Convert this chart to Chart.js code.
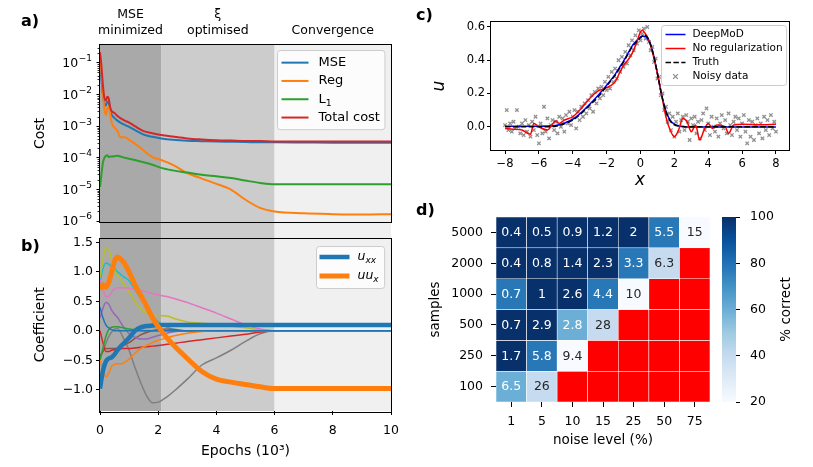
<!DOCTYPE html>
<html lang="en">
<head>
<meta charset="UTF-8">
<title>DeepMoD training, fit and noise robustness</title>
<script src="https://cdn.jsdelivr.net/npm/chart.js"></script>
<style>
  body { margin: 0; background: #fff; font-family: "DejaVu Sans", sans-serif; }
  #fig { position: relative; width: 813px; height: 467px; overflow: hidden; }
  #fig canvas { position: absolute; }
  .plabel { position: absolute; font-weight: bold; font-size: 16px; line-height: 16px; color: #000; }
</style>
</head>
<body>
<div id="fig">
  <canvas id="costChart" width="410" height="228" style="left:0;top:0"></canvas>
  <canvas id="coefChart" width="410" height="239" style="left:0;top:228px"></canvas>
  <canvas id="fitChart" width="403" height="195" style="left:410px;top:0"></canvas>
  <canvas id="heatChart" width="302" height="272" style="left:410px;top:195px"></canvas>
  <canvas id="cbarChart" width="101" height="272" style="left:712px;top:195px"></canvas>
  <div class="plabel" style="left:21px;top:13px">a)</div>
  <div class="plabel" style="left:21px;top:238px">b)</div>
  <div class="plabel" style="left:416px;top:7px">c)</div>
  <div class="plabel" style="left:416px;top:202px">d)</div>
</div>

<script>
// ---- panel a: cost terms (epochs in thousands) ----
const costEpochs = [0, 0.05, 0.1, 0.15, 0.2, 0.25, 0.3, 0.35, 0.4, 0.5, 0.6, 0.7, 0.85, 1.0, 1.2, 1.5, 1.8, 2.1, 2.5, 3.0, 3.5, 4.0, 4.5, 5.0, 5.5, 6.0, 7.0, 8.0, 9.0, 10.0];
const mseCost = [8e-2, 3e-2, 1e-2, 5e-3, 4.5e-3, 6e-3, 5.5e-3, 3e-3, 2.3e-3, 1.8e-3, 1.5e-3, 1.3e-3, 1.1e-3, 9.5e-4, 7.5e-4, 5.4e-4, 4.6e-4, 4.1e-4, 3.7e-4, 3.45e-4, 3.35e-4, 3.25e-4, 3.2e-4, 3.15e-4, 3.1e-4, 3.1e-4, 3.05e-4, 3e-4, 3e-4, 3e-4];
const regCost = [1.5e-1, 5e-2, 1.2e-2, 3.5e-3, 2.3e-3, 3.5e-3, 4.2e-3, 2.5e-3, 1.3e-3, 9e-4, 7e-4, 4.5e-4, 4.5e-4, 3.7e-4, 2.8e-4, 1.7e-4, 1.05e-4, 8.5e-5, 6e-5, 3.3e-5, 2.2e-5, 1.5e-5, 9.8e-6, 4.7e-6, 2.6e-6, 2.0e-6, 1.75e-6, 1.65e-6, 1.6e-6, 1.65e-6];
const l1Cost = [1.2e-5, 3e-5, 7e-5, 1e-4, 1.15e-4, 1.2e-4, 1.05e-4, 1.1e-4, 1.1e-4, 1.12e-4, 1.15e-4, 1.1e-4, 1e-4, 9.3e-5, 8.5e-5, 7.2e-5, 6e-5, 4.8e-5, 4e-5, 3.4e-5, 2.9e-5, 2.6e-5, 2.3e-5, 1.9e-5, 1.6e-5, 1.45e-5, 1.45e-5, 1.45e-5, 1.45e-5, 1.45e-5];
const totalCost = [2.2e-1, 8e-2, 2e-2, 8e-3, 6.5e-3, 8.5e-3, 7.5e-3, 4e-3, 3e-3, 2.6e-3, 2.1e-3, 1.8e-3, 1.5e-3, 1.3e-3, 1e-3, 7e-4, 6e-4, 5.3e-4, 4.7e-4, 4.1e-4, 3.8e-4, 3.6e-4, 3.5e-4, 3.4e-4, 3.4e-4, 3.3e-4, 3.3e-4, 3.3e-4, 3.3e-4, 3.3e-4];
const costTicks = [1e-6, 1e-5, 1e-4, 1e-3, 1e-2, 1e-1];

// training phases shared by a and b
const phaseEdges = [0, 2.1, 6, 10];
const phaseNames = [['MSE', 'minimized'], ['\u03BE', 'optimised'], ['', 'Convergence']];

// ---- panel b: coefficients ----
const coefEpochs = [0, 0.1, 0.2, 0.3, 0.4, 0.5, 0.6, 0.7, 0.8, 1.0, 1.2, 1.4, 1.6, 1.8, 2.0, 2.3, 2.6, 3.0, 3.5, 4.0, 4.5, 5.0, 5.5, 6.0, 7.0, 8.0, 9.0, 10.0];
const coefThin = [
  [0.40, 0.22, 0.10, 0.05, 0.02, 0, 0, 0, 0, 0, 0, 0, 0, 0, 0, 0, 0, 0, 0, 0, 0, 0, 0, 0, 0, 0, 0, 0],
  [-0.50, -0.65, -0.78, -0.72, -0.60, -0.57, -0.56, -0.56, -0.55, -0.48, -0.38, -0.30, -0.25, -0.20, -0.16, -0.12, -0.08, -0.04, -0.01, 0, 0, 0, 0, 0, 0, 0, 0, 0],
  [-0.50, -0.30, -0.10, 0.02, 0.06, 0.07, 0.07, 0.06, 0.05, 0.03, 0.02, 0.01, 0, 0, 0, 0, 0, 0, 0, 0, 0, 0, 0, 0, 0, 0, 0, 0],
  [0, -0.20, -0.35, -0.35, -0.33, -0.32, -0.31, -0.30, -0.30, -0.30, -0.29, -0.28, -0.27, -0.26, -0.25, -0.23, -0.21, -0.18, -0.15, -0.12, -0.09, -0.06, -0.02, 0, 0, 0, 0, 0],
  [0.22, 0.38, 0.48, 0.45, 0.35, 0.28, 0.23, 0.15, 0.07, -0.05, -0.11, -0.14, -0.14, -0.11, -0.08, -0.04, -0.01, 0, 0, 0, 0, 0, 0, 0, 0, 0, 0, 0],
  [-0.42, -0.35, -0.30, -0.30, -0.30, -0.30, -0.29, -0.27, -0.25, -0.20, -0.13, -0.07, -0.03, 0, 0.02, 0.03, 0.02, 0, 0, 0, 0, 0, 0, 0, 0, 0, 0, 0],
  [0.88, 0.72, 0.58, 0.58, 0.66, 0.71, 0.73, 0.73, 0.73, 0.72, 0.70, 0.68, 0.66, 0.63, 0.61, 0.58, 0.54, 0.48, 0.39, 0.30, 0.20, 0.10, 0.03, 0, 0, 0, 0, 0],
  [-0.45, -0.35, -0.22, -0.10, -0.02, 0.03, 0.04, -0.02, -0.12, -0.33, -0.62, -0.88, -1.10, -1.22, -1.21, -1.12, -1.00, -0.82, -0.58, -0.46, -0.33, -0.18, -0.05, 0, 0, 0, 0, 0],
  [0.90, 1.20, 1.40, 1.38, 1.20, 1.02, 0.95, 0.88, 0.80, 0.66, 0.50, 0.38, 0.30, 0.26, 0.26, 0.25, 0.20, 0.15, 0.13, 0.11, 0.08, 0.05, 0.02, 0, 0, 0, 0, 0],
  [0.82, 1.05, 1.15, 1.13, 1.08, 1.05, 1.00, 0.96, 0.92, 0.85, 0.70, 0.55, 0.40, 0.25, 0.15, 0.06, 0.02, 0, 0, 0, 0, 0, 0, 0, 0, 0, 0, 0]
];
const coefUxx = [-0.98, -0.68, -0.52, -0.47, -0.45, -0.40, -0.33, -0.27, -0.22, -0.12, 0, 0.06, 0.08, 0.09, 0.10, 0.10, 0.10, 0.10, 0.10, 0.10, 0.10, 0.10, 0.10, 0.10, 0.10, 0.10, 0.10, 0.10];
const coefUux = [0.70, 0.78, 0.74, 0.82, 1.00, 1.18, 1.25, 1.22, 1.17, 1.00, 0.78, 0.60, 0.42, 0.22, 0.07, -0.12, -0.28, -0.47, -0.69, -0.82, -0.87, -0.91, -0.95, -0.98, -0.98, -0.98, -0.98, -0.98];
const epochTicks = [0, 2, 4, 6, 8, 10];
const coefTicks = [-1.0, -0.5, 0, 0.5, 1.0, 1.5];

// ---- panel c: solution u(x) ----
const fitX = [-8, -7.5, -7, -6.5, -6.3, -6, -5.5, -5, -4.8, -4.5, -4, -3.5, -3, -2.5, -2, -1.5, -1.25, -1, -0.75, -0.5, -0.25, 0, 0.1, 0.25, 0.5, 0.75, 1, 1.25, 1.5, 1.75, 2, 2.25, 2.5, 2.75, 3, 3.25, 3.5, 3.75, 4, 4.25, 4.5, 5, 5.2, 5.5, 6, 7, 8];
const truthU = [0, 0, 0, 0, 0, 0, 0, 0.003, 0.008, 0.018, 0.04, 0.08, 0.13, 0.18, 0.245, 0.31, 0.35, 0.39, 0.435, 0.48, 0.51, 0.535, 0.545, 0.55, 0.52, 0.44, 0.32, 0.19, 0.09, 0.035, 0.012, 0.005, 0.002, 0, 0, 0, 0, 0, 0, 0, 0, 0, 0, 0, 0, 0, 0];
const deepmodU = [0.003, 0.003, 0.003, 0.003, 0.003, 0.003, 0.004, 0.008, 0.012, 0.022, 0.045, 0.085, 0.135, 0.19, 0.25, 0.315, 0.355, 0.395, 0.44, 0.485, 0.515, 0.54, 0.545, 0.545, 0.515, 0.44, 0.32, 0.19, 0.095, 0.04, 0.015, 0.005, 0, -0.002, -0.002, -0.002, -0.002, -0.002, -0.002, -0.002, -0.002, -0.002, -0.002, -0.002, -0.002, -0.002, -0.002];
const noRegU = [-0.01, -0.015, -0.02, -0.045, 0.02, 0, -0.02, 0.035, 0.02, 0.04, 0.06, 0.11, 0.17, 0.215, 0.235, 0.27, 0.32, 0.37, 0.40, 0.44, 0.50, 0.57, 0.58, 0.565, 0.52, 0.43, 0.32, 0.19, 0.06, -0.02, -0.06, -0.02, 0.05, 0.03, -0.03, 0.01, -0.08, -0.02, 0.02, -0.01, 0.01, 0, -0.04, 0.01, 0.015, 0.012, 0.015];
const noisyData = [
  [-8.0, 0.01], [-7.9, 0.10], [-7.8, -0.02], [-7.7, 0.02], [-7.6, -0.03], [-7.5, 0.03], [-7.4, -0.01], [-7.3, 0.10], [-7.2, 0.00], [-7.1, -0.04],
  [-7.0, 0.02], [-6.9, -0.05], [-6.8, 0.04], [-6.7, -0.03], [-6.6, 0.01], [-6.5, -0.06], [-6.4, 0.03], [-6.3, -0.02], [-6.2, 0.06], [-6.1, -0.05],
  [-6.0, -0.10], [-5.9, 0.02], [-5.8, -0.04], [-5.7, 0.12], [-5.6, -0.03], [-5.5, 0.05], [-5.4, -0.07], [-5.3, 0.01], [-5.2, 0.04], [-5.1, -0.02],
  [-5.0, 0.03], [-4.9, -0.04], [-4.8, 0.06], [-4.7, 0.00], [-4.6, 0.05], [-4.5, -0.03], [-4.4, 0.07], [-4.3, 0.02], [-4.2, 0.09], [-4.1, 0.01],
  [-4.0, 0.06], [-3.9, 0.10], [-3.8, -0.01], [-3.7, 0.09], [-3.6, 0.04], [-3.5, 0.12], [-3.4, 0.06], [-3.3, 0.14], [-3.2, 0.08], [-3.1, 0.16],
  [-3.0, 0.11], [-2.9, 0.19], [-2.8, 0.09], [-2.7, 0.21], [-2.6, 0.14], [-2.5, 0.23], [-2.4, 0.17], [-2.3, 0.24], [-2.2, 0.19], [-2.1, 0.27],
  [-2.0, 0.22], [-1.9, 0.30], [-1.8, 0.23], [-1.7, 0.33], [-1.6, 0.27], [-1.5, 0.35], [-1.4, 0.29], [-1.3, 0.40], [-1.2, 0.33], [-1.1, 0.42],
  [-1.0, 0.36], [-0.9, 0.45], [-0.8, 0.38], [-0.7, 0.49], [-0.6, 0.43], [-0.5, 0.52], [-0.4, 0.46], [-0.3, 0.55], [-0.2, 0.50], [-0.1, 0.58],
  [0.0, 0.52], [0.1, 0.56], [0.2, 0.59], [0.3, 0.53], [0.4, 0.60], [0.5, 0.51], [0.6, 0.46], [0.7, 0.48], [0.8, 0.39], [0.9, 0.41],
  [1.0, 0.29], [1.1, 0.30], [1.2, 0.19], [1.3, 0.20], [1.4, 0.10], [1.5, 0.12], [1.6, 0.03], [1.7, 0.08], [1.8, -0.02], [1.9, 0.06],
  [2.0, -0.06], [2.1, 0.03], [2.2, 0.08], [2.3, -0.03], [2.4, 0.04], [2.5, 0.06], [2.6, -0.02], [2.7, 0.07], [2.8, 0.03], [2.9, -0.08],
  [3.0, 0.05], [3.1, 0.01], [3.2, 0.06], [3.3, -0.04], [3.4, 0.03], [3.5, -0.07], [3.6, 0.04], [3.7, 0.08], [3.8, -0.02], [3.9, 0.11],
  [4.0, 0.02], [4.1, -0.05], [4.2, 0.06], [4.3, 0.00], [4.4, -0.03], [4.5, 0.05], [4.6, -0.06], [4.7, 0.02], [4.8, 0.07], [4.9, -0.01],
  [5.0, 0.04], [5.1, -0.04], [5.2, 0.08], [5.3, 0.01], [5.4, -0.05], [5.5, 0.03], [5.6, 0.06], [5.7, -0.02], [5.8, 0.05], [5.9, -0.06],
  [6.0, 0.02], [6.1, 0.07], [6.2, -0.03], [6.3, -0.10], [6.4, 0.04], [6.5, -0.06], [6.6, 0.03], [6.7, -0.08], [6.8, 0.01], [6.9, 0.05],
  [7.0, -0.04], [7.1, 0.02], [7.2, -0.07], [7.3, 0.06], [7.4, -0.02], [7.5, 0.04], [7.6, -0.05], [7.7, 0.07], [7.8, -0.01], [7.9, 0.03],
  [8.0, -0.03]
];
const fitXTicks = [-8, -6, -4, -2, 0, 2, 4, 6, 8];
const fitUTicks = [0, 0.2, 0.4, 0.6];

// ---- panel d: noise vs samples ----
const noiseLevels = ['1', '5', '10', '15', '25', '50', '75'];
const sampleSizes = ['5000', '2000', '1000', '500', '250', '100'];   // top row first
const pctCorrect = [
  [100, 100, 100, 100, 100, 78, 20],
  [100, 100, 100, 100, 78, 40, null],
  [78, 100, 100, 78, 20, null, null],
  [100, 100, 60, 40, null, null, null],
  [100, 78, 20, null, null, null, null],
  [60, 40, null, null, null, null, null]
];
const errorPct = [
  ['0.4', '0.5', '0.9', '1.2', '2', '5.5', '15'],
  ['0.4', '0.8', '1.4', '2.3', '3.3', '6.3', null],
  ['0.7', '1', '2.6', '4.4', '10', null, null],
  ['0.7', '2.9', '2.8', '28', null, null, null],
  ['1.7', '5.8', '9.4', null, null, null, null],
  ['6.5', '26', null, null, null, null, null]
];
const cbarTicks = [20, 40, 60, 80, 100];

// ---- styling ----
const FONT = '"DejaVu Sans", sans-serif';
const tab10 = ['#1f77b4', '#ff7f0e', '#2ca02c', '#d62728', '#9467bd', '#8c564b', '#e377c2', '#7f7f7f', '#bcbd22', '#17becf'];
const phaseColors = ['#a9a9a9', '#cccccc', '#f0f0f0'];
const bluesStops = ['#f7fbff', '#deebf7', '#c6dbef', '#9ecae1', '#6baed6', '#4292c6', '#2171b5', '#08519c', '#08306b'];

Chart.defaults.font.family = FONT;
Chart.defaults.color = '#000';
Chart.defaults.animation = false;
Chart.defaults.plugins.legend.display = false;
Chart.defaults.plugins.tooltip.enabled = false;

const fmt = (v, d) => v.toFixed(d).replace('-', '\u2212');
const pts = (xs, ys) => xs.map((x, i) => ({ x, y: ys[i] }));
const setTicks = list => s => { s.ticks = list.map(v => ({ value: v })); };

function hexRgb(h) { return [1, 3, 5].map(i => parseInt(h.slice(i, i + 2), 16)); }
function blues(pct) {
  const t = Math.min(1, Math.max(0, (pct - 20) / 80)) * (bluesStops.length - 1);
  const i = Math.min(Math.floor(t), bluesStops.length - 2), f = t - i;
  const a = hexRgb(bluesStops[i]), b = hexRgb(bluesStops[i + 1]);
  return 'rgb(' + a.map((c, k) => Math.round(c + (b[k] - c) * f)).join(',') + ')';
}
function lum(rgbStr) {
  const c = rgbStr.match(/\d+/g).map(Number).map(v => { v /= 255; return v <= 0.03928 ? v / 12.92 : Math.pow((v + 0.055) / 1.055, 2.4); });
  return 0.2126 * c[0] + 0.7152 * c[1] + 0.0722 * c[2];
}

const tickGrid = len => ({ drawOnChartArea: false, drawTicks: true, tickLength: len, color: '#000', lineWidth: 1 });

// ---- plugins ----
const framePlugin = {
  id: 'frame',
  afterDatasetsDraw(chart) {
    const { ctx, chartArea: a } = chart;
    ctx.save();
    ctx.strokeStyle = '#000';
    ctx.lineWidth = 1;
    ctx.strokeRect(Math.round(a.left) - 0.5, Math.round(a.top) - 0.5, Math.round(a.right - a.left) + 1, Math.round(a.bottom - a.top) + 1);
    ctx.restore();
  }
};

const phasePlugin = {
  id: 'phases',
  beforeDraw(chart, args, o) {
    const { ctx, chartArea: a, scales: { x } } = chart;
    const top = o.up ? 0 : a.top, bottom = o.up ? a.bottom : chart.height;
    ctx.save();
    phaseColors.forEach((col, i) => {
      const x1 = x.getPixelForValue(phaseEdges[i]), x2 = x.getPixelForValue(phaseEdges[i + 1]);
      ctx.fillStyle = col;
      ctx.fillRect(x1, top, x2 - x1, bottom - top);
      if (o.titles) {
        ctx.fillStyle = '#000';
        ctx.font = '12.5px ' + FONT;
        ctx.textAlign = 'center';
        ctx.textBaseline = 'middle';
        const cx = (x1 + x2) / 2;
        ctx.fillText(phaseNames[i][0], cx, 15);
        ctx.fillText(phaseNames[i][1], cx, 31);
      }
    });
    ctx.restore();
  }
};

// log axis: minor ticks and 10^k labels with a raised exponent
const logAxisPlugin = {
  id: 'logAxis',
  afterDraw(chart) {
    const { ctx, chartArea: a, scales: { y } } = chart;
    ctx.save();
    ctx.strokeStyle = '#000';
    ctx.lineWidth = 0.8;
    for (let k = -7; k <= 0; k++) {
      for (let m = 2; m <= 9; m++) {
        const v = m * Math.pow(10, k);
        if (v < y.min || v > y.max) continue;
        const py = Math.round(y.getPixelForValue(v)) + 0.5;
        ctx.beginPath(); ctx.moveTo(a.left - 2.5, py); ctx.lineTo(a.left, py); ctx.stroke();
      }
    }
    ctx.fillStyle = '#000';
    ctx.textBaseline = 'middle';
    ctx.textAlign = 'left';
    y.ticks.forEach(t => {
      const py = y.getPixelForValue(t.value);
      const sup = fmt(Math.round(Math.log10(t.value)), 0);
      ctx.font = '12.5px ' + FONT;
      const wb = ctx.measureText('10').width;
      ctx.font = '9px ' + FONT;
      const ws = ctx.measureText(sup).width;
      const x0 = a.left - 3.5 - 5 - wb - ws;
      ctx.font = '12.5px ' + FONT;
      ctx.fillText('10', x0, py + 1);
      ctx.font = '9px ' + FONT;
      ctx.fillText(sup, x0 + wb + 0.5, py - 4);
    });
    ctx.restore();
  }
};

function drawCross(ctx, x, y, r) {
  ctx.beginPath();
  ctx.moveTo(x - r, y - r); ctx.lineTo(x + r, y + r);
  ctx.moveTo(x - r, y + r); ctx.lineTo(x + r, y - r);
  ctx.stroke();
}

const legendBoxPlugin = {
  id: 'legendBox',
  afterDraw(chart, args, o) {
    const { ctx, chartArea: a } = chart;
    const items = chart.data.datasets.filter(d => d.label);
    const fontOf = (it, size) => (it.italic ? 'italic ' : '') + size + 'px ' + FONT;
    const subSize = o.size * 0.72;
    ctx.save();
    let tw = 0;
    items.forEach(it => {
      ctx.font = fontOf(it, o.size);
      let w = ctx.measureText(it.label).width;
      if (it.sub) { ctx.font = fontOf(it, subSize); w += ctx.measureText(it.sub).width; }
      tw = Math.max(tw, w);
    });
    const bw = o.padL + o.lineLen + o.gap + tw + o.padR;
    const bh = o.padT + items.length * o.rowH + o.padB;
    const x0 = Math.round(a.right - o.marginR - bw) + 0.5;
    const y0 = Math.round(a.top + o.marginT) + 0.5;
    ctx.beginPath();
    ctx.roundRect(x0, y0, bw, bh, 3);
    ctx.fillStyle = 'rgba(255,255,255,0.8)';
    ctx.fill();
    ctx.strokeStyle = '#cccccc';
    ctx.lineWidth = 1;
    ctx.stroke();
    items.forEach((it, i) => {
      const cy = y0 + o.padT + o.rowH * (i + 0.5);
      const lx = x0 + o.padL;
      ctx.strokeStyle = it.borderColor;
      ctx.lineWidth = it.borderWidth;
      if (it.showLine === false) {
        drawCross(ctx, lx + o.lineLen / 2, cy, it.pointRadius);
      } else {
        ctx.setLineDash(it.borderDash || []);
        ctx.beginPath(); ctx.moveTo(lx, cy); ctx.lineTo(lx + o.lineLen, cy); ctx.stroke();
        ctx.setLineDash([]);
      }
      const tx = lx + o.lineLen + o.gap;
      ctx.fillStyle = '#000';
      ctx.textAlign = 'left';
      ctx.textBaseline = 'middle';
      ctx.font = fontOf(it, o.size);
      ctx.fillText(it.label, tx, cy);
      if (it.sub) {
        const w = ctx.measureText(it.label).width;
        ctx.font = fontOf(it, subSize);
        ctx.fillText(it.sub, tx + w, cy + o.size * 0.3);
      }
    });
    ctx.restore();
  }
};

// ---- a) cost ----
const costLine = (label, ys, color, order, sub) => ({
  label, sub, data: pts(costEpochs, ys), showLine: true, pointRadius: 0,
  borderColor: color, borderWidth: 2, cubicInterpolationMode: 'monotone', order
});
new Chart(document.getElementById('costChart'), {
  type: 'scatter',
  data: {
    datasets: [
      costLine('MSE', mseCost, tab10[0], 4),
      costLine('Reg', regCost, tab10[1], 3),
      costLine('L', l1Cost, tab10[2], 2, '1'),
      costLine('Total cost', totalCost, tab10[3], 1)
    ]
  },
  options: {
    responsive: false,
    layout: { padding: { left: 32, right: 19, top: 45, bottom: 6 } },
    scales: {
      x: { type: 'linear', min: 0, max: 10, display: false },
      y: {
        type: 'logarithmic', min: 9.3e-7, max: 0.37,
        afterBuildTicks: setTicks(costTicks),
        ticks: { display: false },
        grid: tickGrid(3.5),
        border: { display: false },
        title: { display: true, text: 'Cost', font: { size: 14 }, padding: 0 },
        afterFit: s => { s.width = 68; }
      }
    },
    plugins: {
      phases: { up: false, titles: true },
      legendBox: { size: 13, rowH: 18.3, padT: 3, padB: 3, padL: 4, padR: 5, lineLen: 27, gap: 10, marginR: 7, marginT: 5 }
    }
  },
  plugins: [phasePlugin, framePlugin, logAxisPlugin, legendBoxPlugin]
});

// ---- b) coefficients ----
const thinSets = coefThin.map((ys, i) => ({
  data: pts(coefEpochs, ys), showLine: true, pointRadius: 0,
  borderColor: tab10[i], borderWidth: 1.5, cubicInterpolationMode: 'monotone', order: 3 + i
}));
new Chart(document.getElementById('coefChart'), {
  type: 'scatter',
  data: {
    datasets: [
      { label: 'u', sub: 'xx', italic: true, data: pts(coefEpochs, coefUxx), showLine: true, pointRadius: 0, borderColor: tab10[0], borderWidth: 4.5, cubicInterpolationMode: 'monotone', order: 2 },
      { label: 'uu', sub: 'x', italic: true, data: pts(coefEpochs, coefUux), showLine: true, pointRadius: 0, borderColor: tab10[1], borderWidth: 5, cubicInterpolationMode: 'monotone', order: 1 },
      ...thinSets
    ]
  },
  options: {
    responsive: false,
    layout: { padding: { left: 32, right: 19, top: 4, bottom: 7 } },
    scales: {
      x: {
        type: 'linear', min: 0, max: 10,
        afterBuildTicks: setTicks(epochTicks),
        ticks: { callback: v => fmt(v, 0), font: { size: 12.5 }, padding: 8, autoSkip: false, maxRotation: 0 },
        grid: tickGrid(4),
        border: { display: false },
        title: { display: true, text: 'Epochs (10\u00B3)', font: { size: 14 }, padding: 0 },
        afterFit: s => { s.height = 49; }
      },
      y: {
        type: 'linear', min: -1.36, max: 1.565,
        afterBuildTicks: setTicks(coefTicks),
        ticks: { callback: v => fmt(v, 1), font: { size: 12.5 }, padding: 3, autoSkip: false },
        grid: tickGrid(4),
        border: { display: false },
        title: { display: true, text: 'Coefficient', font: { size: 14 }, padding: 0 },
        afterFit: s => { s.width = 68; }
      }
    },
    plugins: {
      phases: { up: true, titles: false },
      legendBox: { size: 12.5, rowH: 19, padT: 1, padB: 3, padL: 3, padR: 6, lineLen: 30, gap: 8, marginR: 7, marginT: 7 }
    }
  },
  plugins: [phasePlugin, framePlugin, legendBoxPlugin]
});

// ---- c) fit ----
new Chart(document.getElementById('fitChart'), {
  type: 'scatter',
  data: {
    datasets: [
      { label: 'DeepMoD', data: pts(fitX, deepmodU), showLine: true, pointRadius: 0, borderColor: '#0000ff', borderWidth: 1.5, cubicInterpolationMode: 'monotone', order: 3 },
      { label: 'No regularization', data: pts(fitX, noRegU), showLine: true, pointRadius: 0, borderColor: '#ff0000', borderWidth: 1.5, cubicInterpolationMode: 'monotone', order: 2 },
      { label: 'Truth', data: pts(fitX, truthU), showLine: true, pointRadius: 0, borderColor: '#000000', borderWidth: 1.5, borderDash: [5.5, 2.4], cubicInterpolationMode: 'monotone', order: 1 },
      { label: 'Noisy data', data: noisyData.map(p => ({ x: p[0], y: p[1] })), showLine: false, pointStyle: 'crossRot', pointRadius: 2.4, borderColor: 'rgba(105,105,105,0.75)', borderWidth: 1.3, order: 4 }
    ]
  },
  options: {
    responsive: false,
    layout: { padding: { left: 19, right: 24, top: 22, bottom: 4 } },
    scales: {
      x: {
        type: 'linear', min: -8.83, max: 8.77,
        afterBuildTicks: setTicks(fitXTicks),
        ticks: { callback: v => fmt(v, 0), font: { size: 11.5 }, padding: 3, autoSkip: false, maxRotation: 0 },
        grid: tickGrid(4),
        border: { display: false },
        title: { display: true, text: 'x', font: { size: 17, style: 'italic' }, padding: 0 },
        afterFit: s => { s.height = 41; }
      },
      y: {
        type: 'linear', min: -0.14, max: 0.63,
        afterBuildTicks: setTicks(fitUTicks),
        ticks: { callback: v => fmt(v, 1), font: { size: 11.5 }, padding: 2, autoSkip: false },
        grid: tickGrid(4),
        border: { display: false },
        title: { display: true, text: 'u', font: { size: 17, style: 'italic' }, padding: 0 },
        afterFit: s => { s.width = 62; }
      }
    },
    plugins: {
      legendBox: { size: 10.5, rowH: 14, padT: 2, padB: 2, padL: 4, padR: 4, lineLen: 20, gap: 7, marginR: 3, marginT: 3 }
    }
  },
  plugins: [framePlugin, legendBoxPlugin]
});

// ---- d) heatmap ----
const nRows = sampleSizes.length;
const heatSets = sampleSizes.map((s, r) => {
  const base = nRows - 1 - r;
  return {
    data: noiseLevels.map(() => [base, base + 1]),
    backgroundColor: pctCorrect[r].map(p => p === null ? '#ff0000' : blues(p)),
    borderColor: '#ffffff', borderWidth: 0.6, borderSkipped: false,
    barPercentage: 1, categoryPercentage: 1, grouped: false
  };
});
const cellTextPlugin = {
  id: 'cellText',
  afterDatasetsDraw(chart) {
    const ctx = chart.ctx;
    ctx.save();
    ctx.font = '12.5px ' + FONT;
    ctx.textAlign = 'center';
    ctx.textBaseline = 'middle';
    chart.data.datasets.forEach((ds, r) => {
      chart.getDatasetMeta(r).data.forEach((el, c) => {
        const txt = errorPct[r][c];
        if (txt === null) return;
        ctx.fillStyle = lum(ds.backgroundColor[c]) > 0.408 ? '#262626' : '#ffffff';
        ctx.fillText(txt, el.x, (el.y + el.base) / 2 + 0.5);
      });
    });
    ctx.restore();
  }
};
new Chart(document.getElementById('heatChart'), {
  type: 'bar',
  data: { labels: noiseLevels, datasets: heatSets },
  options: {
    responsive: false,
    layout: { padding: { left: 17, right: 2, top: 22, bottom: 18 } },
    scales: {
      x: {
        type: 'category',
        ticks: { font: { size: 12.5 }, padding: 7, autoSkip: false, maxRotation: 0 },
        grid: Object.assign(tickGrid(5), { offset: false }),
        border: { display: false },
        title: { display: true, text: 'noise level (%)', font: { size: 13.5 }, padding: 0 },
        afterFit: s => { s.height = 47; }
      },
      y: {
        type: 'linear', min: 0, max: nRows,
        afterBuildTicks: s => { s.ticks = sampleSizes.map((_, r) => ({ value: nRows - 1 - r + 0.5 })); },
        ticks: { callback: v => sampleSizes[nRows - 1 - Math.floor(v)], font: { size: 12.5 }, padding: 8, autoSkip: false },
        grid: tickGrid(5),
        border: { display: false },
        title: { display: true, text: 'samples', font: { size: 13.5 }, padding: 0 },
        afterFit: s => { s.width = 69; }
      }
    }
  },
  plugins: [cellTextPlugin]
});

// ---- colorbar ----
const cbarPlugin = {
  id: 'cbar',
  beforeDatasetsDraw(chart) {
    const { ctx, chartArea: a, scales: { y } } = chart;
    const g = ctx.createLinearGradient(0, y.getPixelForValue(cbarTicks[0]), 0, y.getPixelForValue(cbarTicks[cbarTicks.length - 1]));
    bluesStops.forEach((c, i) => g.addColorStop(i / (bluesStops.length - 1), c));
    ctx.save();
    ctx.fillStyle = g;
    ctx.fillRect(a.left, a.top, a.right - a.left, a.bottom - a.top);
    ctx.translate(chart.width - 27, (a.top + a.bottom) / 2);
    ctx.rotate(-Math.PI / 2);
    ctx.fillStyle = '#000';
    ctx.font = '13.5px ' + FONT;
    ctx.textAlign = 'center';
    ctx.textBaseline = 'middle';
    ctx.fillText('% correct', 0, 0);
    ctx.restore();
  }
};
new Chart(document.getElementById('cbarChart'), {
  type: 'scatter',
  data: { datasets: [] },
  options: {
    responsive: false,
    layout: { padding: { left: 10, right: 0, top: 22, bottom: 65 } },
    scales: {
      x: { type: 'linear', display: false },
      y: {
        type: 'linear', position: 'right', min: 20, max: 100,
        afterBuildTicks: setTicks(cbarTicks),
        ticks: { font: { size: 12.5 }, padding: 10, autoSkip: false },
        grid: tickGrid(4),
        border: { display: false },
        afterFit: s => { s.width = 77; }
      }
    }
  },
  plugins: [cbarPlugin]
});
</script>
</body>
</html>
